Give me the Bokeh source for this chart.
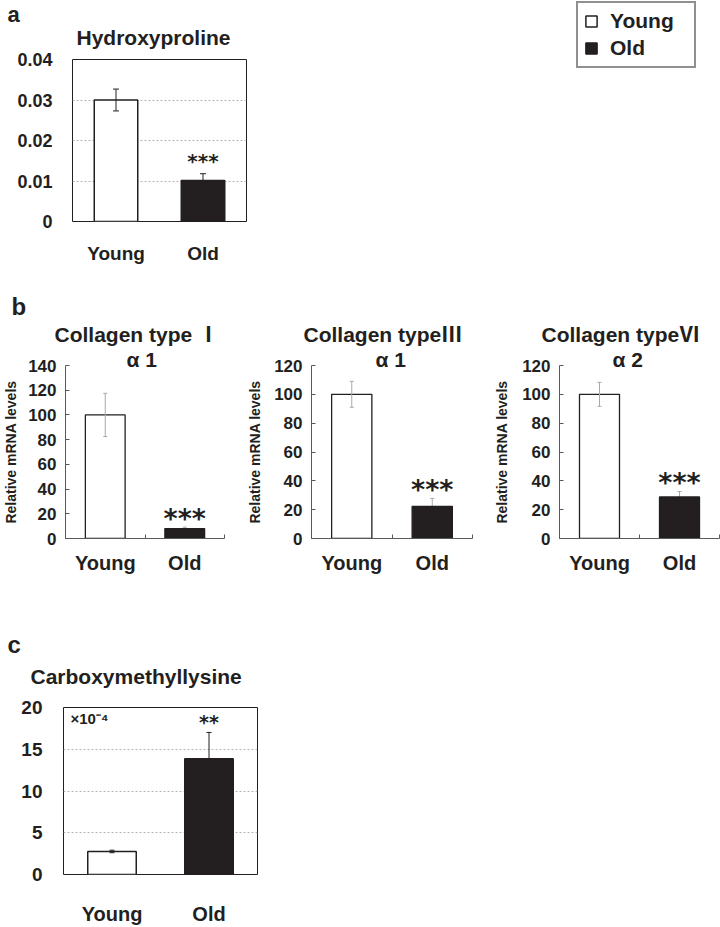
from bokeh.plotting import figure
from bokeh.layouts import column, row
from bokeh.models import (Range1d, FixedTicker, Whisker, TeeHead, ColumnDataSource,
                          Label, Legend, LegendItem, PrintfTickFormatter, Title)
from bokeh.embed import file_html
from bokeh.resources import INLINE
from bokeh.core.properties import value

# ---------------- data ----------------
categories = ["Young", "Old"]
bar_colors = ["white", "#231f20"]

hyp_title = "Hydroxyproline"
hyp_mean = [0.0300, 0.0101]
hyp_err = [0.0027, 0.0017]
hyp_ticks = [0, 0.01, 0.02, 0.03, 0.04]
hyp_sig = "***"

col_titles = ["Collagen type Ⅰ", "Collagen typeⅢ", "Collagen typeⅥ"]
col_subtitles = ["α 1", "α 1", "α 2"]
col1_mean = [100, 8.0]
col1_err = [17.5, 1.2]
col3_mean = [100, 22.3]
col3_err = [9.0, 5.5]
col6_mean = [100, 28.8]
col6_err = [8.3, 3.8]
col1_ticks = [0, 20, 40, 60, 80, 100, 120, 140]
col3_ticks = [0, 20, 40, 60, 80, 100, 120]
col6_ticks = [0, 20, 40, 60, 80, 100, 120]
col_sig = ["***", "***", "***"]
col_ylabel = "Relative mRNA levels"

cml_title = "Carboxymethyllysine"
cml_mean = [2.76, 13.86]
cml_err = [0.15, 3.15]
cml_ticks = [0, 5, 10, 15, 20]
cml_sig = "**"
cml_scale = "×10⁻⁴"

panel_letters = ["a", "b", "c"]

# ---------------- style ----------------
FONT = "Liberation Sans"
TITLE_FONT = "'Liberation Sans', 'Noto Sans CJK JP', sans-serif"
STAR_FONT = "DejaVu Sans"
DARK = "#231f20"
AXGRAY = "#58595b"
ERRGRAY = "#a7a9ac"
GRID = "#b5b5b5"

xs = [i + 0.5 for i in range(len(categories))]
bounds = list(range(len(categories) + 1))
xlabels = {x: c for x, c in zip(xs, categories)}


def base_fig(width, height, left, right, top, bottom, ymax):
    p = figure(width=width, height=height, x_range=Range1d(0, len(categories)),
               y_range=Range1d(0, ymax), toolbar_location=None, output_backend="svg",
               title_location=None, frame_align=False,
               min_border_left=left, min_border_right=right,
               min_border_top=top, min_border_bottom=bottom)
    p.background_fill_color = "white"
    p.border_fill_color = "white"
    return p


def add_bars(p, mean, err, line_w, err_color, head):
    src = ColumnDataSource(dict(x=xs, top=mean, color=bar_colors))
    # error bars: young drawn over its bar, old behind its bar (only upper part shows)
    for i, lvl in enumerate(["overlay", "underlay"]):
        ws = ColumnDataSource(dict(x=[xs[i]], upper=[mean[i] + err[i]], lower=[mean[i] - err[i]]))
        w = Whisker(base="x", upper="upper", lower="lower", source=ws, level=lvl,
                    line_color=err_color, line_width=1,
                    upper_head=TeeHead(size=head, line_color=err_color, line_width=1),
                    lower_head=TeeHead(size=head, line_color=err_color, line_width=1))
        p.add_layout(w)
    p.vbar(x="x", top="top", bottom=0, width=0.5, source=src, fill_color="color",
           line_color=DARK, line_width=line_w)


def add_title(p, text, size, offset, standoff):
    p.add_layout(Title(text=text, align="left", offset=offset, standoff=standoff,
                       text_font=TITLE_FONT, text_font_size=size, text_font_style="bold",
                       text_color=DARK, vertical_align="bottom"), "above")


def add_sig(p, mean, err, text, size, yoff):
    p.text(x=[xs[1]], y=[mean[1] + err[1]], text=[text], text_font=value(STAR_FONT),
           text_font_style="bold", text_font_size=size, text_color=DARK,
           text_align="center", text_baseline="alphabetic", y_offset=yoff)


def boxed_axes(p, ticks, ysize, ystand, xsize, xstand):
    p.outline_line_color = DARK
    p.outline_line_width = 1
    p.xgrid.visible = False
    p.ygrid.grid_line_color = GRID
    p.ygrid.grid_line_dash = "2 2"
    p.yaxis.ticker = FixedTicker(ticks=ticks, minor_ticks=[])
    p.xaxis.ticker = FixedTicker(ticks=xs, minor_ticks=[])
    p.xaxis.major_label_overrides = xlabels
    for ax in (p.xaxis, p.yaxis):
        ax.axis_line_color = None
        ax.major_tick_line_color = None
        ax.minor_tick_line_color = None
        ax.major_label_text_font = FONT
        ax.major_label_text_font_style = "bold"
        ax.major_label_text_color = DARK
    p.yaxis.major_label_standoff = ystand
    p.yaxis.major_label_text_font_size = ysize
    p.xaxis.major_label_standoff = xstand
    p.xaxis.major_label_text_font_size = xsize


# ---------------- panel a ----------------
pa = base_fig(400, 270, 72, 154, 59, 49, hyp_ticks[-1])
boxed_axes(pa, hyp_ticks, "18px", 14, "19px", 15)
pa.yaxis.formatter = PrintfTickFormatter(format="%.2f")
pa.yaxis.major_label_overrides = {0: "0"}
add_bars(pa, hyp_mean, hyp_err, 1.5, DARK, 6)
add_sig(pa, hyp_mean, hyp_err, hyp_sig, "20px", -13)
add_title(pa, hyp_title, "21px", 4, 21)
add_title(pa, panel_letters[0], "22px", -65, -26)

# ---------------- legend ----------------
lf = figure(width=320, height=270, x_range=Range1d(0, 1), y_range=Range1d(0, 1),
            toolbar_location=None, output_backend="svg", x_axis_location=None,
            y_axis_location=None, title_location=None, outline_line_color=None,
            frame_align=False,
            min_border_left=175, min_border_right=0, min_border_top=0,
            min_border_bottom=180)
lf.grid.visible = False
items = []
for c, col in zip(categories, bar_colors):
    # proxy glyph for the legend key; it sits under the opaque legend box
    r = lf.vbar(x=[0.4], top=[0.8], bottom=[0.6], width=0.1, fill_color=col,
                line_color=DARK, line_width=1.5)
    items.append(LegendItem(label=c, renderers=[r]))
leg = Legend(items=items, location="top_left", margin=1, padding=6, spacing=3,
             glyph_width=14, glyph_height=14, label_standoff=12, label_width=78,
             label_height=22, label_text_font=FONT, label_text_font_style="bold",
             label_text_font_size="21px", label_text_color=DARK,
             border_line_color=DARK, border_line_width=2, background_fill_color="white",
             background_fill_alpha=1)
lf.add_layout(leg)


# ---------------- panel b ----------------
def col_panel(left, right, ticks, mean, err, title, sub, sig, lab_stand,
              t_off, s_off, letter=None):
    p = base_fig(240, 330, left, right, 95, 62, ticks[-1])
    p.outline_line_color = None
    p.grid.visible = False
    p.yaxis.ticker = FixedTicker(ticks=ticks, minor_ticks=[])
    p.xaxis.ticker = FixedTicker(ticks=xs, minor_ticks=bounds)
    p.xaxis.major_label_overrides = xlabels
    for ax in (p.xaxis, p.yaxis):
        ax.axis_line_color = AXGRAY
        ax.axis_line_width = 1
        ax.major_label_text_font = FONT
        ax.major_label_text_font_style = "bold"
        ax.major_label_text_color = DARK
    p.yaxis.major_tick_in = 4
    p.yaxis.major_tick_out = 0
    p.yaxis.major_tick_line_color = AXGRAY
    p.yaxis.minor_tick_line_color = None
    p.yaxis.major_label_standoff = 9
    p.yaxis.major_label_text_font_size = "17px"
    p.yaxis.axis_label = col_ylabel
    p.yaxis.axis_label_text_font = FONT
    p.yaxis.axis_label_text_font_style = "bold"
    p.yaxis.axis_label_text_font_size = "14px"
    p.yaxis.axis_label_text_color = DARK
    p.yaxis.axis_label_standoff = lab_stand
    p.xaxis.major_tick_line_color = None
    p.xaxis.minor_tick_in = 4
    p.xaxis.minor_tick_out = 0
    p.xaxis.minor_tick_line_color = AXGRAY
    p.xaxis.major_label_standoff = 7
    p.xaxis.major_label_text_font_size = "20px"
    add_bars(p, mean, err, 1.3, ERRGRAY, 4)
    add_sig(p, mean, err, sig, "27px", -9)
    add_title(p, sub, "21px", s_off, -10)
    add_title(p, title, "21px", t_off, 10)
    if letter:
        add_title(p, letter, "24px", -54, -8)
    return p


pb1 = col_panel(61, 16, col1_ticks, col1_mean, col1_err, col_titles[0],
                col_subtitles[0], col_sig[0], 6, -11, 61, panel_letters[1])
pb2 = col_panel(71, 8, col3_ticks, col3_mean, col3_err, col_titles[1],
                col_subtitles[1], col_sig[1], 8, -8, 64)
pb3 = col_panel(79, 1, col6_ticks, col6_mean, col6_err, col_titles[2],
                col_subtitles[2], col_sig[2], 9, -18, 53)

# ---------------- panel c ----------------
pc = base_fig(720, 327, 63, 463, 107, 44, cml_ticks[-1])
boxed_axes(pc, cml_ticks, "19px", 15, "20px", 22)
add_bars(pc, cml_mean, cml_err, 1.5, DARK, 5)
add_sig(pc, cml_mean, cml_err, cml_sig, "19px", -10)
add_title(pc, cml_title, "21px", -33, 39)
add_title(pc, panel_letters[2], "24px", -56, -28)
pc.add_layout(Label(x=7, y=156, x_units="screen", y_units="screen", text=cml_scale,
                    text_font=FONT, text_font_size="15px", text_font_style="bold",
                    text_color=DARK, text_baseline="alphabetic"))

layout = column(row(pa, lf), row(pb1, pb2, pb3), row(pc))
open("out.html", "w").write(file_html(layout, INLINE))
